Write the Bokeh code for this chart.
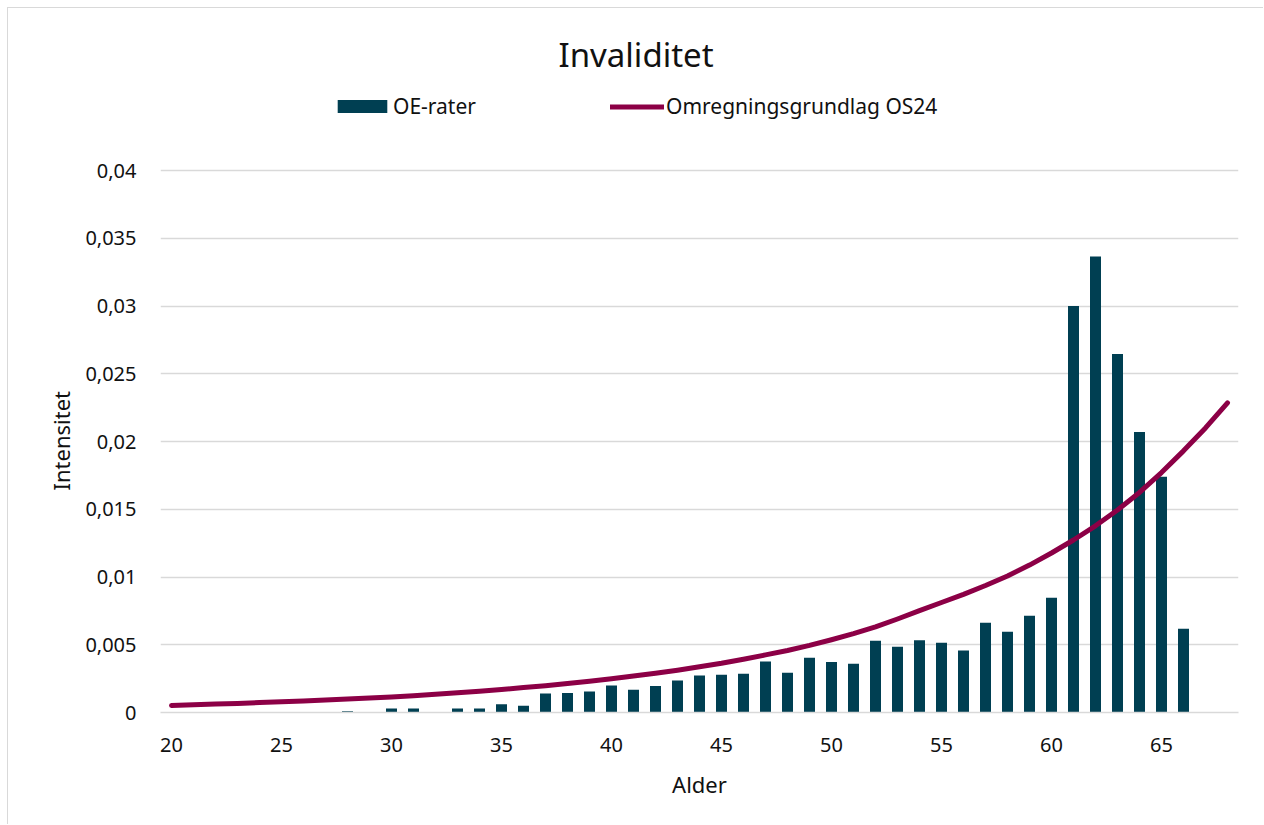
from bokeh.plotting import figure
from bokeh.models import (ColumnDataSource, Range1d, FixedTicker, CustomJSTickFormatter,
                          Legend, LegendItem, Title)
from bokeh.embed import file_html
from bokeh.resources import INLINE

# ---- data ----
ages_bar = list(range(20, 69))
oe_rater = [0, 0, 0, 0, 0, 0, 0, 0, 0.0001, 0,
            0.0003, 0.0003, 0, 0.0003, 0.0003, 0.0006, 0.0005, 0.0014, 0.00143, 0.00155,
            0.0020, 0.00168, 0.00195, 0.00236, 0.00273, 0.00278, 0.00286, 0.00376, 0.00293, 0.00404,
            0.00372, 0.0036, 0.0053, 0.00485, 0.00534, 0.00514, 0.00458, 0.00662, 0.00596, 0.00714,
            0.00846, 0.0300, 0.03365, 0.02645, 0.0207, 0.0174, 0.00618, 0, 0]

ages_line = list(range(20, 69))
os24 = [0.00052, 0.00057, 0.00062, 0.00067, 0.00073, 0.00079, 0.00085, 0.00092, 0.00099, 0.00107,
        0.00115, 0.00124, 0.00134, 0.00145, 0.00157, 0.00170, 0.00184, 0.00198, 0.00214, 0.00231,
        0.00249, 0.00269, 0.00290, 0.00312, 0.00337, 0.00363, 0.00393, 0.00425, 0.00458, 0.00495,
        0.00537, 0.00582, 0.00632, 0.00690, 0.00752, 0.00812, 0.00872, 0.00937, 0.01008, 0.01088,
        0.01177, 0.01273, 0.01378, 0.01494, 0.01624, 0.01771, 0.01931, 0.02100, 0.02285]

x_ticks = [20, 25, 30, 35, 40, 45, 50, 55, 60, 65]
y_ticks = [0, 0.005, 0.01, 0.015, 0.02, 0.025, 0.03, 0.035, 0.04]

title_text = "Invaliditet"
bar_label = "OE-rater"
line_label = "Omregningsgrundlag OS24"
x_title = "Alder"
y_title = "Intensitet"

BAR_COLOR = "#003f52"
LINE_COLOR = "#8c0046"
GRID = "#d9d9d9"
FONT = "Noto Sans"
TXT = "#111111"

y_top = 0.04 * (712 - 90) / (712 - 170)

p = figure(width=1256, height=817, output_backend="svg", toolbar_location=None,
           x_range=Range1d(19.5, 68.5), y_range=Range1d(0, y_top),
           min_border_left=152, min_border_right=26, min_border_top=82, min_border_bottom=113)
p.styles = {"margin-left": "8px", "margin-top": "8px",
            "box-shadow": "-1px -1px 0 0 #d9d9d9"}

bar_src = ColumnDataSource(dict(x=ages_bar, top=oe_rater))
line_src = ColumnDataSource(dict(x=ages_line, y=os24))

bars = p.vbar(x="x", top="top", width=0.5, source=bar_src, fill_color=BAR_COLOR,
              line_color=None)
line = p.line(x="x", y="y", source=line_src, line_color=LINE_COLOR, line_width=5,
              line_cap="round", line_join="round")

p.outline_line_color = None
p.xgrid.grid_line_color = None
p.ygrid.grid_line_color = GRID
p.ygrid.grid_line_width = 1.5

p.xaxis.ticker = FixedTicker(ticks=x_ticks)
p.yaxis.ticker = FixedTicker(ticks=y_ticks)
p.yaxis.formatter = CustomJSTickFormatter(
    code="if (tick == 0) return '0'; return parseFloat(tick.toFixed(4)).toString().replace('.', ',');")

for ax in (p.xaxis[0], p.yaxis[0]):
    ax.major_tick_line_color = None
    ax.minor_tick_line_color = None
    ax.major_label_text_font = FONT
    ax.major_label_text_font_size = "20px"
    ax.major_label_text_color = TXT
    ax.axis_label_text_font = FONT
    ax.axis_label_text_font_style = "normal"
    ax.axis_label_text_font_size = "22px"
    ax.axis_label_text_color = TXT

p.xaxis.axis_line_color = GRID
p.xaxis.axis_line_width = 1.5
p.yaxis.axis_line_color = None
p.xaxis.axis_label = x_title
p.xaxis.major_label_standoff = 19
p.xaxis.axis_label_standoff = 14
p.yaxis.major_label_standoff = 18

# y-axis title as a side title so that it can be centred on the 0..0.04 span
ytitle = Title(text=y_title, align="left", offset=222, standoff=14,
               text_font=FONT, text_font_size="22px", text_font_style="normal",
               text_color=TXT)
p.add_layout(ytitle, "left")

p.title.text = title_text
p.title.align = "left"
p.title.text_font = FONT
p.title.text_font_size = "33px"
p.title.text_font_style = "normal"
p.title.text_color = TXT
p.title.offset = 398
p.title.standoff = 27

common = dict(orientation="horizontal", padding=0, margin=0,
              label_text_font=FONT, label_text_font_size="21px", label_height=20,
              label_text_color=TXT, background_fill_alpha=0, border_line_color=None)
leg1 = Legend(items=[LegendItem(label=bar_label, renderers=[bars])],
              location=(171, 592), glyph_width=62, glyph_height=16, label_standoff=0,
              **common)
leg2 = Legend(items=[LegendItem(label=line_label, renderers=[line])],
              location=(450, 592), glyph_width=54, glyph_height=13, label_standoff=2,
              **common)
p.add_layout(leg1, "center")
p.add_layout(leg2, "center")

open("out.html", "w").write(file_html(p, INLINE))
